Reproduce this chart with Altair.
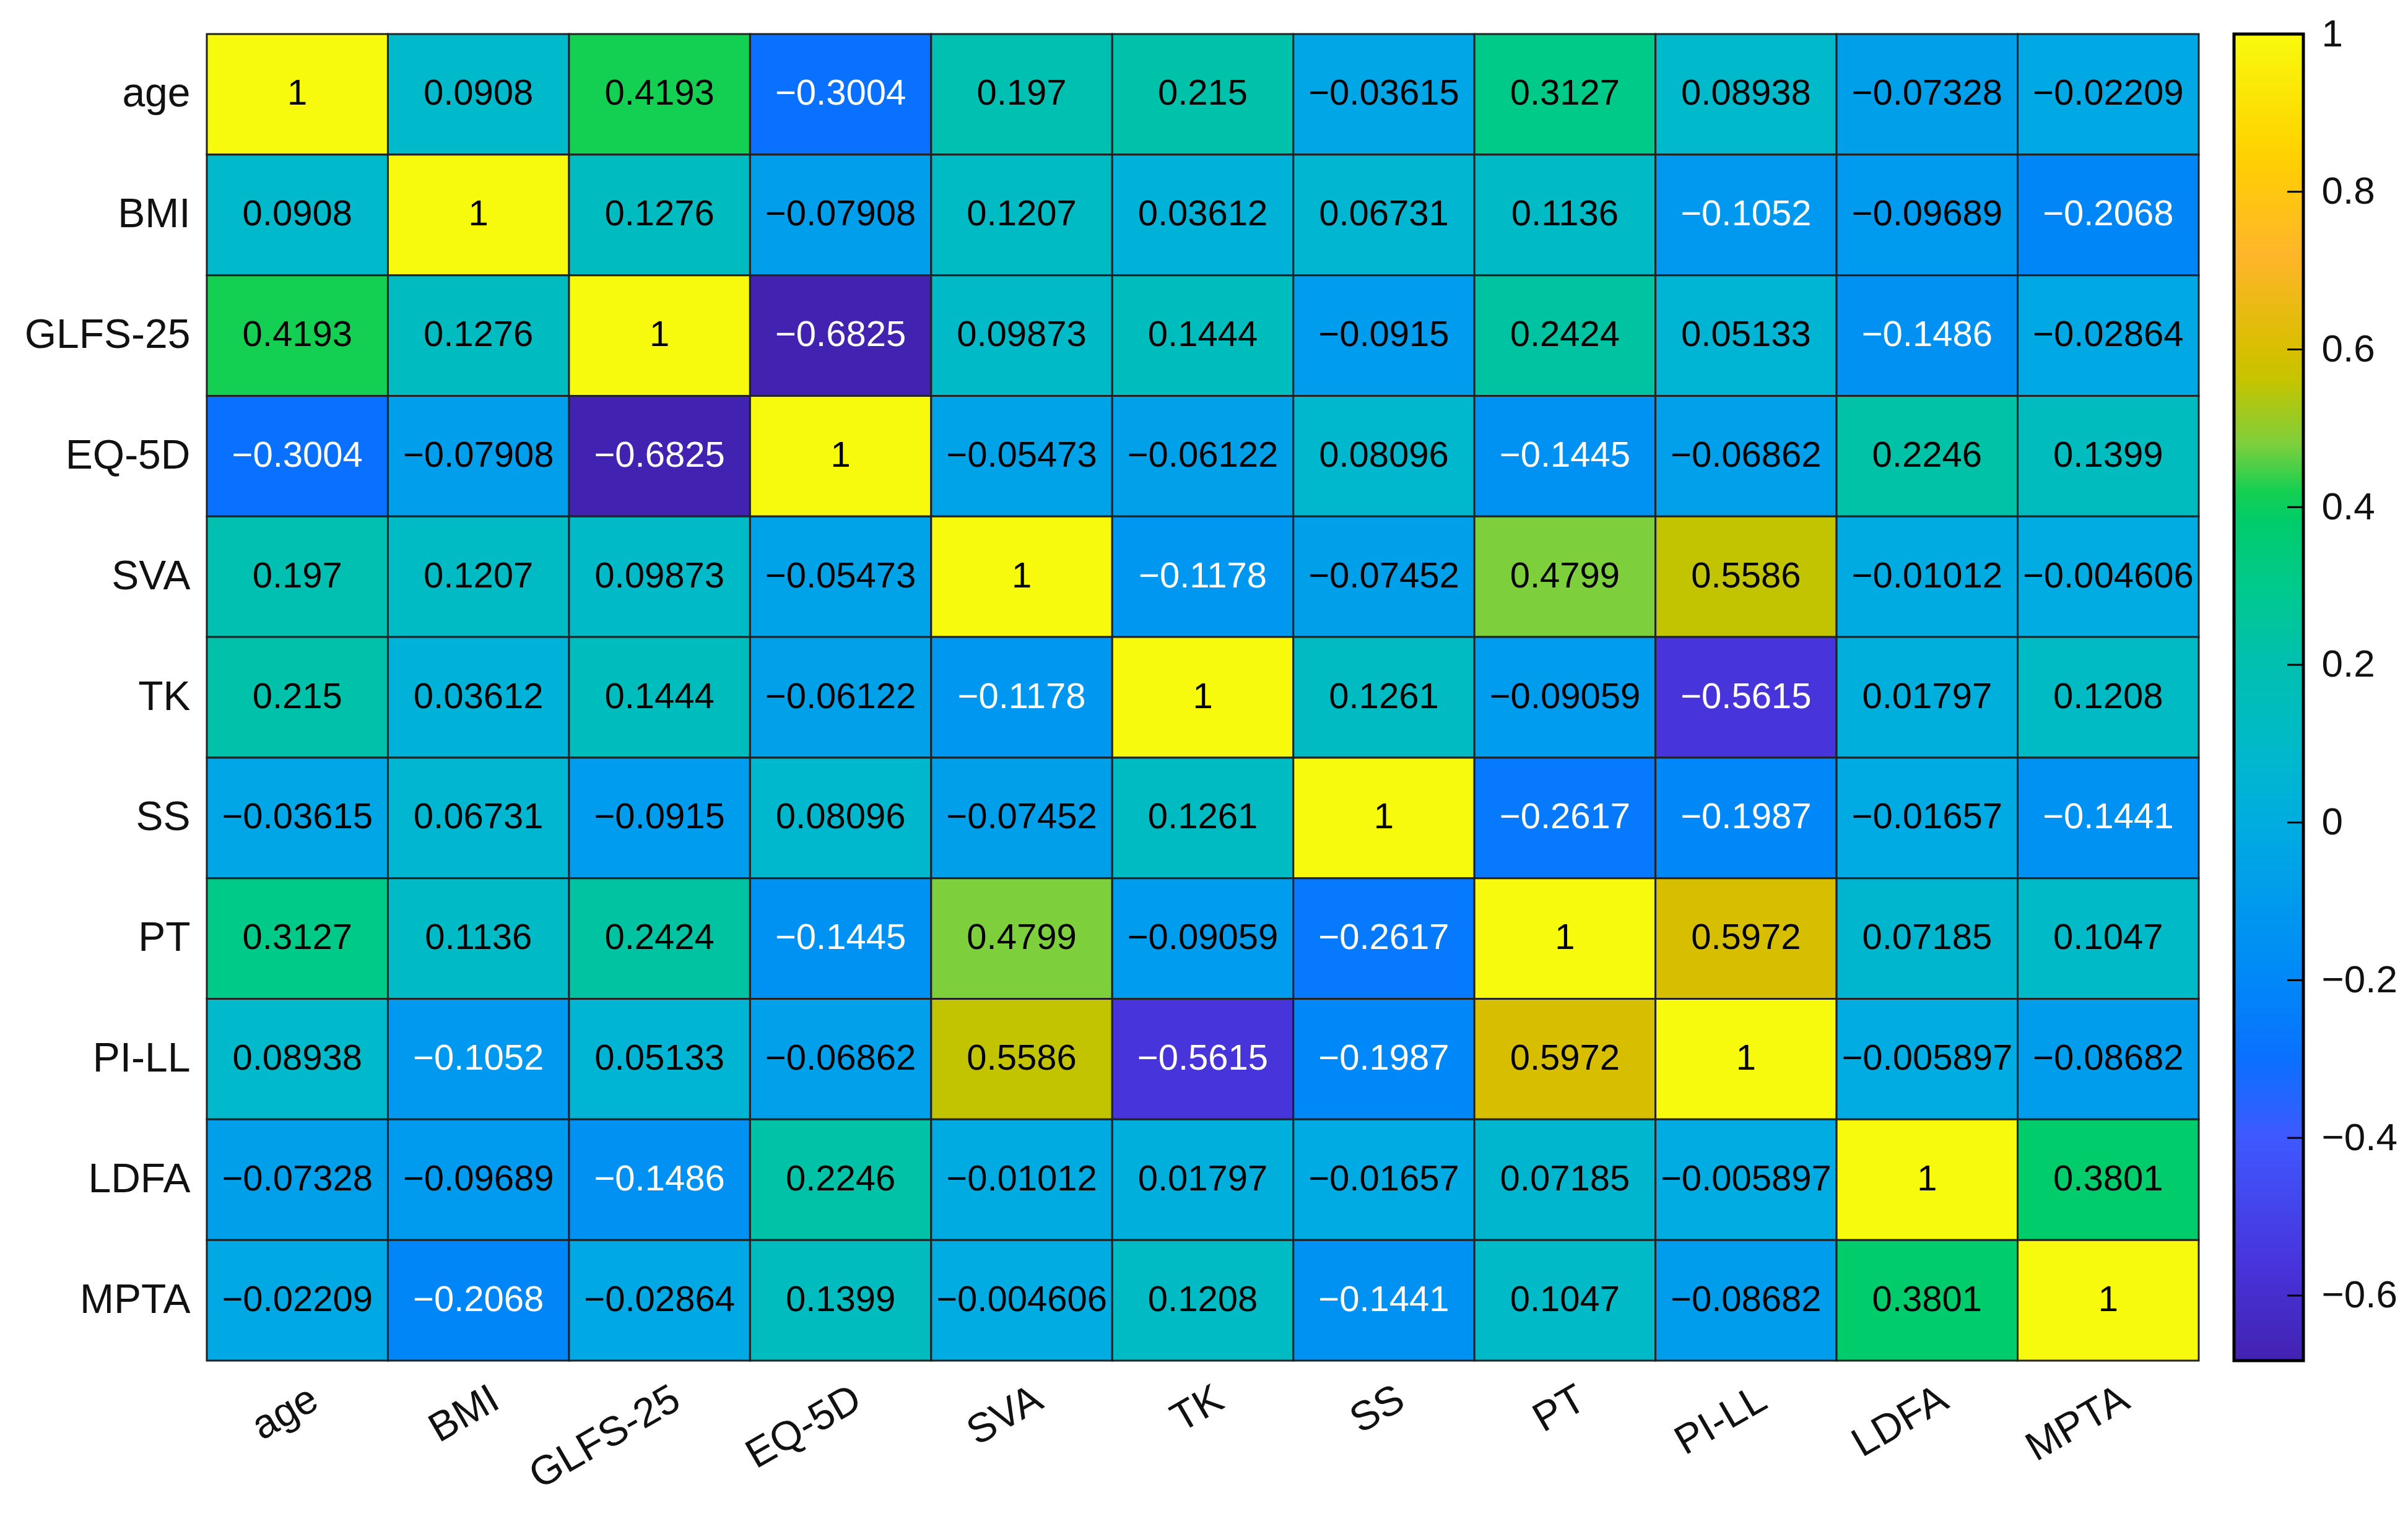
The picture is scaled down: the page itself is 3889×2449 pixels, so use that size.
import altair as alt
import pandas as pd

variables = ["age", "BMI", "GLFS-25", "EQ-5D", "SVA", "TK", "SS", "PT", "PI-LL", "LDFA", "MPTA"]

r_age   = [1, 0.0908, 0.4193, -0.3004, 0.197, 0.215, -0.03615, 0.3127, 0.08938, -0.07328, -0.02209]
r_bmi   = [0.0908, 1, 0.1276, -0.07908, 0.1207, 0.03612, 0.06731, 0.1136, -0.1052, -0.09689, -0.2068]
r_glfs  = [0.4193, 0.1276, 1, -0.6825, 0.09873, 0.1444, -0.0915, 0.2424, 0.05133, -0.1486, -0.02864]
r_eq5d  = [-0.3004, -0.07908, -0.6825, 1, -0.05473, -0.06122, 0.08096, -0.1445, -0.06862, 0.2246, 0.1399]
r_sva   = [0.197, 0.1207, 0.09873, -0.05473, 1, -0.1178, -0.07452, 0.4799, 0.5586, -0.01012, -0.004606]
r_tk    = [0.215, 0.03612, 0.1444, -0.06122, -0.1178, 1, 0.1261, -0.09059, -0.5615, 0.01797, 0.1208]
r_ss    = [-0.03615, 0.06731, -0.0915, 0.08096, -0.07452, 0.1261, 1, -0.2617, -0.1987, -0.01657, -0.1441]
r_pt    = [0.3127, 0.1136, 0.2424, -0.1445, 0.4799, -0.09059, -0.2617, 1, 0.5972, 0.07185, 0.1047]
r_pill  = [0.08938, -0.1052, 0.05133, -0.06862, 0.5586, -0.5615, -0.1987, 0.5972, 1, -0.005897, -0.08682]
r_ldfa  = [-0.07328, -0.09689, -0.1486, 0.2246, -0.01012, 0.01797, -0.01657, 0.07185, -0.005897, 1, 0.3801]
r_mpta  = [-0.02209, -0.2068, -0.02864, 0.1399, -0.004606, 0.1208, -0.1441, 0.1047, -0.08682, 0.3801, 1]

rows = [r_age, r_bmi, r_glfs, r_eq5d, r_sva, r_tk, r_ss, r_pt, r_pill, r_ldfa, r_mpta]

# colour map (parula-like) stops
cmap_domain = [-0.6825, -0.56, -0.4, -0.3, -0.2, -0.1, 0.0, 0.1, 0.2, 0.3, 0.38, 0.42, 0.48, 0.56, 0.6, 0.72, 0.85, 1.0]
cmap_range = ["#4222b0", "#4834dc", "#3f58ff", "#0a70ff", "#0088f8", "#009aee", "#00ade0", "#00bac8",
              "#00c0b0", "#00ca8c", "#00cc6c", "#14d052", "#7ecf3c", "#c4c400", "#d8bf00", "#ffb52a",
              "#ffd200", "#f8fa0d"]
cbar_ticks = [-0.6, -0.4, -0.2, 0, 0.2, 0.4, 0.6, 0.8, 1]

records = []
for rname, vals in zip(variables, rows):
    for cname, v in zip(variables, vals):
        records.append({"row": rname, "col": cname, "v": v})
df = pd.DataFrame(records)

FONT = "Liberation Sans"
W, H = 3217, 2143

color_scale = alt.Scale(domain=cmap_domain, range=cmap_range, interpolate="rgb", clamp=True)

base = alt.Chart(df).encode(
    x=alt.X("col:N", sort=variables, title=None,
            axis=alt.Axis(labelAngle=-30, labelAlign="right", labelBaseline="top",
                          labelPadding=29, labelOffset=12, ticks=False, domain=False, labelLimit=2000,
                          labelFontSize=66, labelFont=FONT, labelColor="#111")),
    y=alt.Y("row:N", sort=variables, title=None,
            axis=alt.Axis(ticks=False, domain=False, labelPadding=27, labelLimit=2000,
                          labelFontSize=66, labelFont=FONT, labelColor="#111")),
)

cells = base.mark_rect(stroke="#222222", strokeWidth=3).encode(
    color=alt.Color("v:Q", scale=color_scale, legend=None)
)

texts = base.mark_text(font=FONT, fontSize=58).encode(
    text=alt.Text("v:Q", format=".4~g"),
    color=alt.condition(alt.datum.v < -0.1, alt.value("white"), alt.value("black")),
)

heat = (cells + texts).properties(width=W, height=H)

# colour bar
lo = min(min(r) for r in rows)
hi = 1.0
stops = [alt.GradientStop(offset=(d - lo) / (hi - lo), color=c) for d, c in zip(cmap_domain, cmap_range)]
grad = alt.LinearGradient(gradient="linear", stops=stops, x1=0, x2=0, y1=1, y2=0)

cb_df = pd.DataFrame({"lo": [lo], "hi": [hi]})
tick_df = pd.DataFrame({"t": cbar_ticks})
yscale = alt.Scale(domain=[lo, hi], nice=False, zero=False)

cb_rect = alt.Chart(cb_df).mark_rect(fill=grad, stroke="black", strokeWidth=5).encode(
    y=alt.Y("lo:Q", scale=yscale, title=None,
            axis=alt.Axis(orient="right", values=cbar_ticks, format=".2~f", ticks=False, domain=False,
                          grid=False, labelPadding=29, labelFontSize=62, labelFont=FONT, labelColor="#111")),
    y2="hi:Q",
    x=alt.value(0), x2=alt.value(112),
)
cb_ticks = alt.Chart(tick_df).mark_rule(color="black", strokeWidth=3).encode(
    y=alt.Y("t:Q", scale=yscale),
    x=alt.value(86), x2=alt.value(112),
)
cbar = (cb_rect + cb_ticks).properties(width=112, height=H)

chart = alt.hconcat(heat, cbar, spacing=52).properties(
    padding={"left": 30, "top": 15, "right": 5, "bottom": 5}
).configure_view(stroke="black", strokeWidth=8).configure(background="white")

chart.save("out.html", embed_options={"renderer": "svg", "actions": False})
